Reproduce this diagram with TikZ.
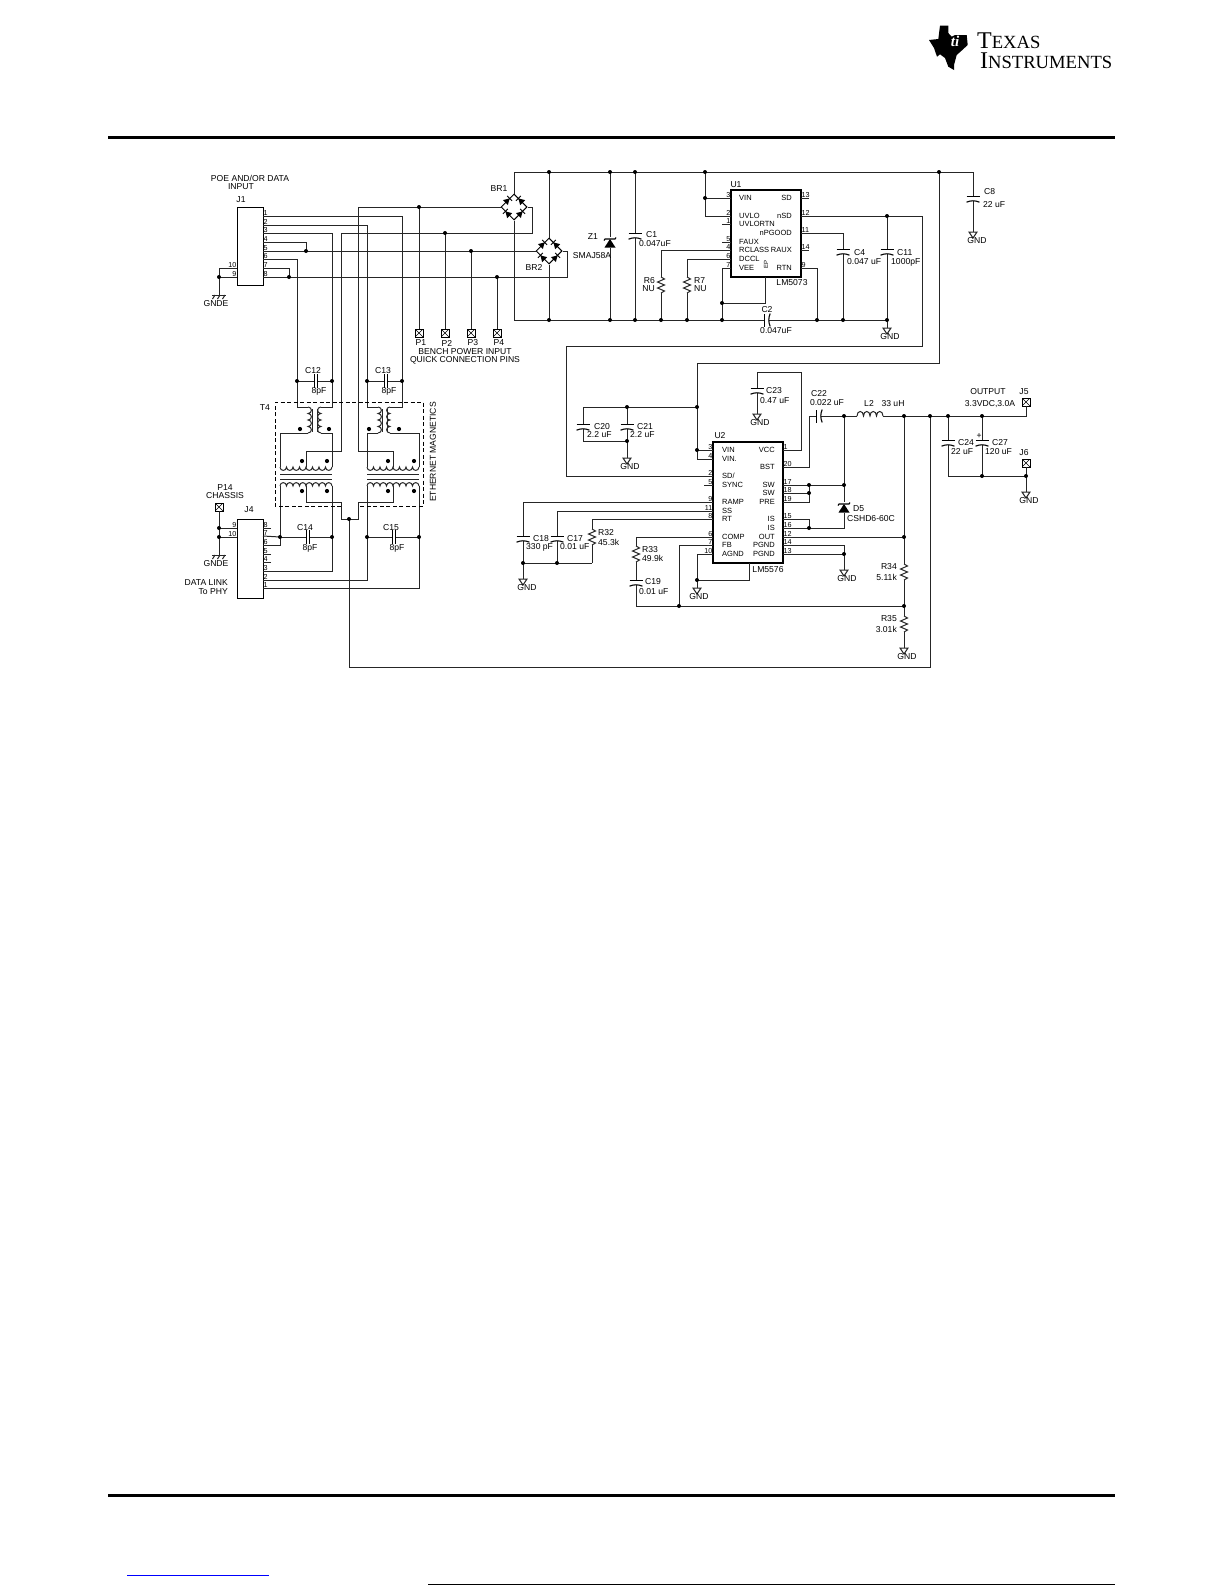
\documentclass[tikz,border=0pt]{standalone}
\usepackage{fontspec}
\setmainfont{Liberation Sans}
\newfontfamily\logofont{Liberation Serif}
\usetikzlibrary{shapes.geometric}
\tikzset{
  wire/.style={line width=1pt,black!85},
  plate/.style={line width=1.1pt,black},
  lbl/.style={inner sep=0pt,font=\fontsize{8.6}{9}\selectfont},
  lblw/.style={lbl,anchor=west},
  lble/.style={lbl,anchor=east},
  chiptxt/.style={inner sep=0pt,font=\fontsize{7.5}{8}\selectfont},
  pnr/.style={inner sep=0.4pt,anchor=south west,font=\fontsize{7.2}{7}\selectfont},
  pnl/.style={inner sep=0.4pt,anchor=south east,font=\fontsize{7.2}{7}\selectfont},
  chip/.style={draw,line width=1.4pt,inner sep=0pt},
  conn/.style={draw,line width=1pt,inner sep=0pt},
  bridge/.style={diamond,draw,line width=1pt,minimum size=26pt,inner sep=0pt,fill=white},
  tpin/.style={draw,line width=0.8pt,minimum size=8pt,inner sep=0pt,fill=white,
    path picture={\draw[line width=0.6pt] (path picture bounding box.south west) -- (path picture bounding box.north east)
      (path picture bounding box.north west) -- (path picture bounding box.south east);}},
  capv/.pic={\fill[white] (-4,-2) rectangle (4,2);
    \draw[plate] (-6.5,-2.5) -- (6.5,-2.5);
    \draw[plate] (-6.5,3.2) .. controls (-2,1.3) and (2,1.3) .. (6.5,3.2);},
  capf/.pic={\fill[white] (-1.4,-3) rectangle (1.4,3);
    \draw[plate] (-1.6,-7) -- (-1.6,7); \draw[plate] (1.6,-7) -- (1.6,7);},
  resv/.pic={\fill[white] (-1,-8) rectangle (1,8);
    \draw[wire] (0,-8) -- (3.5,-6) -- (-3.5,-3) -- (3.5,0) -- (-3.5,3) -- (3.5,6) -- (0,8);},
  gnd/.pic={\draw[wire,fill=white] (-4,0) -- (4,0) -- (0,6) -- cycle;},
  gnde/.pic={\draw[wire] (-7,0) -- (7,0);
    \foreach \x in {-4,1,6} \draw[wire] (\x,0) -- (\x-2.5,4);},
  zen/.pic={\fill[white] (-6,-6) rectangle (6,5);
    \fill (-5.5,4.5) -- (5.5,4.5) -- (0,-4) -- cycle;
    \draw[plate] (-6,-2.5) -- (-5,-4) -- (5,-4) -- (6,-5.5);},
  brdiodes/.pic={\foreach \x/\y/\a in {-6.5/-6.5/45,6.5/-6.5/135,-6.5/6.5/135,6.5/6.5/45}{
      \fill[shift={(\x,\y)},rotate=\a] (-3,-3.5) -- (-3,3.5) -- (3,0) -- cycle;
      \draw[line width=1pt,shift={(\x,\y)},rotate=\a] (3,-3.5) -- (3,3.5);}},
}
\newcommand{\vcoil}[3]{\draw[wire] (#1,#2) foreach \k in {1,...,4} { .. controls +(#3,0) and +(#3,0) .. ++(0,6.5)};}
\newcommand{\hcoil}[4]{\draw[wire] (#1,#2) foreach \k in {1,...,#4} { .. controls +(0,#3) and +(0,#3) .. ++(6.5,0)};}
\begin{document}
\begin{tikzpicture}[x=1pt,y=-1pt]
  \useasboundingbox (0,0) rectangle (1225,1585);

  \foreach \n/\y in {1/216,2/225,3/233,4/242,5/251,6/259,7/268,8/277} \coordinate (Ja\n) at (263,\y);
  \foreach \n/\y in {1/588,2/580,3/571,4/562,5/554,6/545,7/536,8/528} \coordinate (Jc\n) at (263,\y);
  \foreach \n/\y in {3/198,2/216,1/224,5/242,4/250,6/259,7/268} \coordinate (Ul\n) at (731,\y);
  \foreach \n/\y in {13/198,12/216,11/233,14/250,9/268} \coordinate (Ur\n) at (801,\y);
  \foreach \n/\y in {3/450,4/459,2/476,5/485,9/502,11/511,8/519,6/537,7/545,10/554} \coordinate (Vl\n) at (713,\y);
  \foreach \n/\y in {1/450,20/467,17/485,18/493,19/502,15/519,16/528,12/537,14/545,13/554} \coordinate (Vr\n) at (783,\y);
  \coordinate (Jb9) at (237,277); \coordinate (Jb10) at (237,268);
  \coordinate (Jd9) at (237,528); \coordinate (Jd10) at (237,537);

  \foreach \n/\x/\y in {dg1/219/277,dg2/219/528,dg3/219/537,dn4/306/251,dn7/289/277,dP1/419/207,dP2/445/233,
      dP3/471/251,dP4/497/277,dt1/549/172,dt2/610/172,dt3/635/172,dt4/705/172,dt5/939/172,db1/549/320,
      db2/610/320,db3/635/320,db4/661/320,db5/687/320,db6/722/320,db7/817/320,db8/843/320,db9/887/320,
      du1/705/198,du2/722/303,du3/887/216,dc1/297/381,dc2/332/381,dc3/367/381,dc4/402/381,dc5/280/537,
      dc6/332/537,dc7/367/537,dc8/419/537,dm1/349/519,dv1/697/407,dv2/627/407,dv3/627/441,dv4/697/450,
      dl1/844/416,dl2/904/416,dl3/930/416,dl4/948/416,dl5/982/416,dl6/982/476,dl7/1026/476,ds1/809/485,
      ds2/844/485,ds3/809/493,ds4/809/528,ds5/904/537,ds6/844/554,dr1/904/606,dr2/679/606,df1/697/580,
      dq1/523/563,dq2/557/563}
    \coordinate (\n) at (\x,\y);

  \foreach \n/\x/\y in {wA/297/407,wAc/308/407,wB/332/407,wBc/321/407,wC/367/407,wCc/378/407,wD/402/407,wDc/390/407,
      tA1/280/433,tA2/308/433,tA3/321/433,tA4/332/433,tB1/367/433,tB2/378/433,tB3/390/433,tB4/419/433,
      cA1/280/467,cA2/332/467,cB1/367/467,cB2/419/467,cC1/280/486,cC2/332/486,cD1/367/486,cD2/419/486,
      tpA0/306/467,tpA1/306/451,tpA2/341/451,tpA3/341/233,tpB0/393/467,tpB1/393/451,tpB2/358/451,tpB3/358/207,
      tpC0/306/486,tpC1/306/502,tpC2/341/502,tpC3/341/519,tpD0/393/486,tpD1/393/502,tpD2/358/502,tpD3/358/519,
      e1/349/667,e2/930/667,b1/532/233,g8/567/277,r1/514/172,r2/973/172,r3/514/320,
      u1a/765/277,u3a/922/346,u3b/566/476,u4a/939/363,u4b/697/363,u4c/697/459,v1/583/407,v2/583/441,
      a1/801/372,a2/757/372,w20/809/416,w3/1026/416,w4/1026/476,lA/857/416,lB/883/416,
      k1/844/528,f1/749/563,dq3/592/563,s1/722/224,s2/722/242,s3/809/198,s4/809/250,s5/704/485,
      x1/271/528,x2/271/554,x3/271/562,rA/636/606}
    \coordinate (\n) at (\x,\y);

  \foreach \n/\x/\y in {g1/973/232,g2/887/328,g3/627/458,g4/757/414,g5/697/588,g6/523/579,g7/844/570,g9/904/648,g10/1026/492}
    \coordinate (\n) at (\x,\y);
  \coordinate (ge1) at (219,295); \coordinate (ge2) at (219,555);

  \node[conn,minimum width=26pt,minimum height=78pt] (J1) at (250,246) {};
  \node[conn,minimum width=26pt,minimum height=79pt] (J4) at (250,558.5) {};
  \node[chip,minimum width=70pt,minimum height=87pt] (U1) at (766,233.5) {};
  \node[chip,minimum width=70pt,minimum height=121pt] (U2) at (748,502.5) {};
  \node[bridge] (BR1) at (514,207) {}; \node[bridge] (BR2) at (549,251) {};
  \node[tpin] (P1) at (419,333) {}; \node[tpin] (P2) at (445,333) {}; \node[tpin] (P3) at (471,333) {};
  \node[tpin] (P4) at (497,333) {}; \node[tpin] (P14) at (219,507) {};
  \node[tpin] (J5) at (1026,402) {}; \node[tpin] (J6) at (1026,463) {};

  \draw[wire] (Ja1) -| (wD) -- (wDc); \draw[wire] (Ja2) -| (wC) -- (wCc);
  \draw[wire] (Ja3) -| (wB) -- (wBc); \draw[wire] (Ja6) -| (wA) -- (wAc);
  \draw[wire] (Ja4) -| (dn4); \draw[wire] (Ja5) -- (BR2.west); \draw[wire] (Ja7) -| (dn7);
  \draw[wire] (Ja8) -- (g8) |- (BR2.east);
  \draw[wire] (Jb10) -| (dg1); \draw[wire] (Jb9) -- (ge1 |- Jb9) -- (ge1);
  \draw[wire] (tpB3) -- (BR1.west); \draw[wire] (tpA3) -- (b1) |- (BR1.east);
  \draw[wire] (dP1) -- (P1.north); \draw[wire] (dP2) -- (P2.north);
  \draw[wire] (dP3) -- (P3.north); \draw[wire] (dP4) -- (P4.north);
  \draw[wire] (BR1.north) -- (r1) -- (r2) -- (g1); \draw[wire] (BR2.north) -- (dt1);
  \draw[wire] (BR1.south) -- (r3) -- (db9) -- (g2); \draw[wire] (BR2.south) -- (db1);
  \draw[wire] (dt2) -- (db2); \draw[wire] (dt3) -- (db3);
  \draw[wire] (dt4) -- (du1 |- Ul2) -- (Ul2); \draw[wire] (du1) -- (Ul3);
  \draw[wire] (s1) -- (Ul1); \draw[wire] (s2) -- (Ul5);
  \draw[wire] (Ul4) -| (db4); \draw[wire] (Ul6) -| (db5); \draw[wire] (Ul7) -| (db6);
  \draw[wire] (du2) -| (u1a);
  \draw[wire] (Ur13) -- (s3); \draw[wire] (Ur14) -- (s4);
  \draw[wire] (Ur12) -| (u3a) -| (u3b) -- (Vl2);
  \draw[wire] (du3) -- (db9); \draw[wire] (Ur11) -| (db8); \draw[wire] (Ur9) -| (db7);
  \draw[wire] (dt5) -- (dt5 |- u4a) -- (u4b) -- (u4c) -- (Vl4); \draw[wire] (dv4) -- (Vl3);
  \draw[wire] (dv1) -- (v1) -- (v2) -- (dv3); \draw[wire] (dv2) -- (g3);
  \draw[wire] (Vr1) -| (a1) -- (a2) -- (g4);
  \draw[wire] (Vr20) -| (w20) -- (lA); \draw[wire] (lB) -- (w3) -- (J5.south);
  \draw[wire] (dl1) -- (k1) -- (Vr16); \draw[wire] (Vr15) -| (ds4);
  \draw[wire] (Vr17) -- (ds2); \draw[wire] (Vr18) -- (ds3); \draw[wire] (Vr19) -| (ds1);
  \draw[wire] (Vr12) -- (ds5); \draw[wire] (dl2) -- (g9); \draw[wire] (dr1) -- (rA);
  \draw[wire] (Vl6) -| (rA); \draw[wire] (Vl7) -| (dr2);
  \draw[wire] (Vl10) -| (g5); \draw[wire] (df1) -| (f1);
  \draw[wire] (Vr14) -| (g7); \draw[wire] (Vr13) -- (ds6);
  \draw[wire] (s5) -- (Vl5);
  \draw[wire] (Vl9) -| (g6); \draw[wire] (Vl11) -| (dq2); \draw[wire] (Vl8) -| (dq3); \draw[wire] (dq1) -- (dq3);
  \draw[wire] (dl4) -- (dl4 |- dl6) -- (w4); \draw[wire] (dl5) -- (dl6);
  \draw[wire] (J6.south) -- (g10);
  \draw[wire] (dl3) -- (e2) -- (e1) -- (dm1);
  \draw[wire] (P14.south) -- (ge2); \draw[wire] (Jd9) -- (dg2); \draw[wire] (Jd10) -- (dg3);
  \draw[wire] (dc1) -- (dc2); \draw[wire] (dc3) -- (dc4); \draw[wire] (dc5) -- (dc6); \draw[wire] (dc7) -- (dc8);
  \draw[wire] (tA2) -- (tA1) -- (cA1); \draw[wire] (tA3) -- (tA4) -- (cA2);
  \draw[wire] (tB2) -- (tB1) -- (cB1); \draw[wire] (tB3) -- (tB4) -- (cB2);
  \draw[wire] (tpA3) -- (tpA2) -- (tpA1) -- (tpA0); \draw[wire] (tpB3) -- (tpB2) -- (tpB1) -- (tpB0);
  \draw[wire] (tpC0) -- (tpC1) -- (tpC2) -- (tpC3) -- (tpD3) -- (tpD2) -- (tpD1) -- (tpD0);
  \draw[wire] (cC1) -- (dc5 |- Jc6) -- (Jc6); \draw[wire] (dc5) -- (Jc7);
  \draw[wire] (cC2) |- (Jc3); \draw[wire] (cD1) |- (Jc2); \draw[wire] (cD2) |- (Jc1);
  \foreach \n/\m in {x1/Jc8,x2/Jc5,x3/Jc4} \draw[wire] (\n) -- (\m);

  \vcoil{308}{407}{4.5} \vcoil{321}{407}{-4.5} \vcoil{378}{407}{4.5} \vcoil{390}{407}{-4.5}
  \hcoil{280}{467}{4.5}{8} \hcoil{367}{467}{4.5}{8} \hcoil{280}{486}{-4.5}{8} \hcoil{367}{486}{-4.5}{8}
  \draw[wire] (312,409) -- (312,432); \draw[wire] (317.5,409) -- (317.5,432);
  \draw[wire] (382,409) -- (382,432); \draw[wire] (387,409) -- (387,432);
  \foreach \y in {474,479} {\draw[wire] (280,\y) -- (332,\y); \draw[wire] (367,\y) -- (419,\y);}
  \draw[wire] (lA) foreach \k in {1,...,4} { .. controls +(0,-6) and +(0,-6) .. ++(6.5,0)};
  \draw[line width=0.8pt,dash pattern=on 4pt off 2.5pt] (341,506) -- (275,506) -- (275,402) -- (423,402) -- (423,506) -- (358,506);

  \foreach \p in {dg1,dg2,dg3,dn4,dn7,dP1,dP2,dP3,dP4,dt1,dt2,dt3,dt4,dt5,db1,db2,db3,db4,db5,db6,db7,db8,db9,
      du1,du2,du3,dc1,dc2,dc3,dc4,dc5,dc6,dc7,dc8,dm1,dv1,dv2,dv3,dv4,dl1,dl2,dl3,dl4,dl5,dl6,dl7,ds1,ds2,ds3,ds4,
      ds5,ds6,dr1,dr2,df1,dq1,dq2}
    \fill (\p) circle (2);
  \foreach \x/\y in {300/429,329/429,369/429,399/429,302/461,327/461,388/461,414/461,302/491,327/491,388/491,414/491}
    \fill (\x,\y) circle (2.1);

  \pic at (BR1) {brdiodes}; \pic at (BR2) {brdiodes};
  \pic at (635,236) {capv}; \pic at (973,199) {capv}; \pic at (843,252) {capv}; \pic at (887,252) {capv};
  \pic at (583,427) {capv}; \pic at (627,427) {capv}; \pic at (757,391) {capv};
  \pic at (948,443) {capv}; \pic at (982,443) {capv};
  \pic at (523,539) {capv}; \pic at (557,539) {capv}; \pic at (636,583) {capv};
  \pic[rotate=90] at (767,320) {capv}; \pic[rotate=90] at (819,416) {capv};
  \pic at (316,381) {capf}; \pic at (386,381) {capf}; \pic at (308,537) {capf}; \pic at (394,537) {capf};
  \pic at (661,285) {resv}; \pic at (687,285) {resv}; \pic at (592,537) {resv}; \pic at (636,554) {resv};
  \pic at (904,572) {resv}; \pic at (904,624) {resv};
  \pic at (610,243) {zen}; \pic at (844,508) {zen};
  \foreach \g in {g1,g2,g3,g4,g5,g6,g7,g9,g10} \pic at (\g) {gnd};
  \pic at (ge1) {gnde}; \pic at (ge2) {gnde};

  \foreach \n in {1,...,8} \node[pnr] (nJa\n) at (Ja\n) {\n};
  \foreach \n in {1,...,8} \node[pnr] (nJc\n) at (Jc\n) {\n};
  \foreach \n in {9,10} {\node[pnl] (nJb\n) at (Jb\n) {\n}; \node[pnl] (nJd\n) at (Jd\n) {\n};}
  \foreach \n in {3,2,1,5,4,6,7} \node[pnl] (nUl\n) at (Ul\n) {\n};
  \foreach \n in {13,12,11,14,9} \node[pnr] (nUr\n) at (Ur\n) {\n};
  \foreach \n in {3,4,2,5,9,11,8,6,7,10} \node[pnl] (nVl\n) at (Vl\n) {\n};
  \foreach \n in {1,20,17,18,19,15,16,12,14,13} \node[pnr] (nVr\n) at (Vr\n) {\n};

  \foreach \n/\t/\y in {a/VIN/198,b/UVLO/216,c/UVLORTN/224,d/FAUX/242,e/RCLASS/250,f/DCCL/259,g/VEE/268}
    \node[chiptxt,anchor=west] (tU\n) at (739,\y) {\t};
  \foreach \n/\t/\y in {h/SD/198,i/nSD/216,j/nPGOOD/233,k/RAUX/250,l/RTN/268}
    \node[chiptxt,anchor=east] (tU\n) at (792,\y) {\t};
  \node[chiptxt,rotate=90,font=\fontsize{6}{6}\selectfont] (tEP) at (766,264) {EP};
  \foreach \n/\t/\y in {a/VIN/450,b/VIN./459,c/SD\slash/476,d/SYNC/485,e/RAMP/502,f/SS/511,g/RT/519,h/COMP/537,i/FB/545,j/AGND/554}
    \node[chiptxt,anchor=west] (tV\n) at (722,\y) {\t};
  \foreach \n/\t/\y in {k/VCC/450,l/BST/467,m/SW/485,n/SW/493,o/PRE/502,p/IS/519,q/IS/528,r/OUT/537,s/PGND/545,t/PGND/554}
    \node[chiptxt,anchor=east] (tV\n) at (775,\y) {\t};

  \node[lbl] (tPOE) at (250,178) {POE AND/OR DATA}; \node[lbl] (tIN) at (241,187) {INPUT};
  \node[lbl] (tJ1) at (241,200) {J1}; \node[lbl] (tJ4) at (249,510) {J4}; \node[lbl] (tT4) at (265,408) {T4};
  \node[lbl] (tBR1) at (499,189) {BR1}; \node[lbl] (tBR2) at (534,267) {BR2};
  \node[lbl] (tGE1) at (216,304) {GNDE}; \node[lbl] (tGE2) at (216,564) {GNDE};
  \node[lbl] (tP1) at (421,343) {P1}; \node[lbl] (tP2) at (447,343) {P2};
  \node[lbl] (tP3) at (473,343) {P3}; \node[lbl] (tP4) at (499,343) {P4};
  \node[lbl] (tB1) at (465,352) {BENCH POWER INPUT}; \node[lbl] (tB2) at (465,360) {QUICK CONNECTION PINS};
  \node[lbl] (tP14) at (225,488) {P14}; \node[lbl] (tCH) at (225,496) {CHASSIS};
  \node[lble] (tD1) at (228,583) {DATA LINK}; \node[lble] (tD2) at (228,592) {To PHY};
  \node[lbl] (tC12) at (313,371) {C12}; \node[lbl] (tp12) at (319,391) {8pF};
  \node[lbl] (tC13) at (383,371) {C13}; \node[lbl] (tp13) at (389,391) {8pF};
  \node[lbl] (tC14) at (305,528) {C14}; \node[lbl] (tp14) at (310,548) {8pF};
  \node[lbl] (tC15) at (391,528) {C15}; \node[lbl] (tp15) at (397,548) {8pF};
  \node[lbl,rotate=90] (tEM) at (433,452) {ETHERNET MAGNETICS};
  \node[lbl] (tZ1) at (593,237) {Z1}; \node[lbl] (tSM) at (592,256) {SMAJ58A};
  \node[lblw] (tC1) at (646,235) {C1}; \node[lblw] (tv1) at (639,244) {0.047uF};
  \node[lbl] (tU1) at (736,185) {U1}; \node[lbl] (tLM1) at (792,283) {LM5073};
  \node[lble] (tR6) at (655,281) {R6}; \node[lble] (tv6) at (655,289) {NU};
  \node[lblw] (tR7) at (694,281) {R7}; \node[lblw] (tv7) at (694,289) {NU};
  \node[lbl] (tC2) at (767,310) {C2}; \node[lbl] (tv2) at (776,331) {0.047uF};
  \node[lblw] (tC4) at (854,253) {C4}; \node[lblw] (tv4) at (847,262) {0.047 uF};
  \node[lblw] (tC11) at (897,253) {C11}; \node[lblw] (tv11) at (891,262) {1000pF};
  \node[lblw] (tC8) at (984,192) {C8}; \node[lblw] (tv8) at (983,205) {22 uF};
  \node[lbl] (tU2) at (720,436) {U2}; \node[lbl] (tLM2) at (768,570) {LM5576};
  \node[lblw] (tC23) at (766,391) {C23}; \node[lblw] (tv23) at (760,401) {0.47 uF};
  \node[lbl] (tC22) at (819,394) {C22}; \node[lbl] (tv22) at (827,403) {0.022 uF};
  \node[lblw] (tC20) at (594,427) {C20}; \node[lblw] (tv20) at (587,435) {2.2 uF};
  \node[lblw] (tC21) at (637,427) {C21}; \node[lblw] (tv21) at (630,435) {2.2 uF};
  \node[lblw] (tC18) at (533,539) {C18}; \node[lblw] (tv18) at (526,547) {330 pF};
  \node[lblw] (tC17) at (567,539) {C17}; \node[lblw] (tv17) at (560,547) {0.01 uF};
  \node[lblw] (tR32) at (598,533) {R32}; \node[lblw] (tv32) at (598,542) {45.3k};
  \node[lblw] (tR33) at (642,550) {R33}; \node[lblw] (tv33) at (642,558) {49.9k};
  \node[lblw] (tC19) at (645,582) {C19}; \node[lblw] (tv19) at (639,592) {0.01 uF};
  \node[lbl] (tL2) at (869,403) {L2}; \node[lbl] (tvL) at (893,404) {33 uH};
  \node[lbl] (tOUT) at (988,392) {OUTPUT}; \node[lbl] (tVO) at (990,404) {3.3VDC,3.0A};
  \node[lbl] (tJ5) at (1024,392) {J5}; \node[lbl] (tJ6) at (1024,453) {J6};
  \node[lblw] (tC24) at (958,443) {C24}; \node[lblw] (tv24) at (951,452) {22 uF};
  \node[lblw] (tC27) at (992,443) {C27}; \node[lblw] (tv27) at (985,452) {120 uF};
  \node[lbl] (tPL) at (979,436) {+};
  \node[lblw] (tD5) at (853,509) {D5}; \node[lbl] (tCS) at (871,519) {CSHD6-60C};
  \node[lble] (tR34) at (897,567) {R34}; \node[lble] (tv34) at (897,577) {5.11k};
  \node[lble] (tR35) at (897,619) {R35}; \node[lble] (tv35) at (897,629) {3.01k};
  \foreach \n/\x/\y in {a/977/241,b/890/337,c/630/467,d/760/423,e/699/597,f/527/588,g/847/579,h/907/657,i/1029/501}
    \node[lbl] (tG\n) at (\x,\y) {GND};

  \draw[line width=3pt] (108,137) -- (1115,137); \draw[line width=3pt] (108,1495) -- (1115,1495);
  \draw[line width=1pt,blue] (127,1575) -- (269,1575); \draw[line width=1.2pt] (428,1584.4) -- (1115,1584.4);
  \fill (940,25.7) -- (948.3,25.7) -- (948.3,33) -- (951.7,36.7) -- (955,35) -- (966.7,35) -- (967.7,45) -- (962.3,50)
    -- (956.7,55) -- (954,65) -- (954,70) -- (948.3,66.7) -- (945,58) -- (940,54.3) -- (937,56.7) -- (934,48)
    -- (929,40) -- (938.3,39) -- cycle;
  \node[inner sep=0pt,text=white,font=\logofont\bfseries\itshape\fontsize{15}{15}\selectfont] (tti) at (955,41) {ti};
  \node[inner sep=0pt,anchor=base west,font=\logofont\fontsize{24}{24}\selectfont] (tTX) at (977,48) {T{\fontsize{18.6}{18}\selectfont EXAS}};
  \node[inner sep=0pt,anchor=base west,font=\logofont\fontsize{24}{24}\selectfont] (tTI) at (980,68) {I{\fontsize{18.6}{18}\selectfont NSTRUMENTS}};
\end{tikzpicture}
\end{document}
